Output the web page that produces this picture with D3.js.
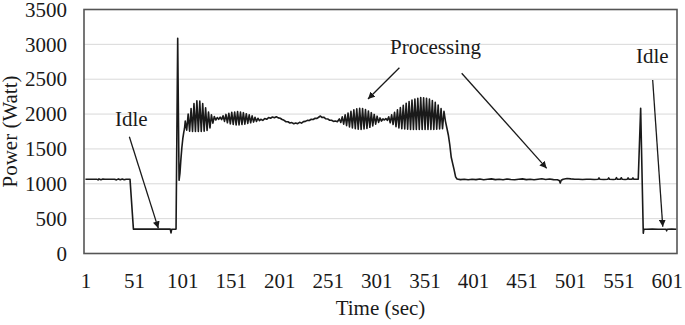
<!DOCTYPE html>
<html>
<head>
<meta charset="utf-8">
<script src="https://cdn.jsdelivr.net/npm/d3@7"></script>
<style>
  body { margin: 0; background: #fff; }
</style>
</head>
<body>
<div id="power-chart"></div>
<script>
// [sec, watt] readings, split by phase
const idleBefore = [[1,1064],[8,1064],[13,1064],[14,1056],[15,1070],[17,1058],[19,1068],[21,1064],[31,1064],[33,1056],[35,1070],[37,1058],
  [39,1068],[41,1058],[43,1066],[47,1064],
  [50.5,350],[56,350],[62,349],[68,350],[74,349],[80,350],[86,349],[88.5,350],[89.3,295],[90,348],[94.5,350]]
const startUp = [[96.2,3087],[97.6,1050],[98.5,1150],[99.5,1350],[100.5,1520],[101.5,1650],[102.5,1740],[103.2,1790]]
const band1 = [[104,1900],[105.5,1770],[107,2000],[108.5,1755],[110,2080],[111.5,1750],[113,2150],[114.5,1750],[116,2190],[117.5,1750],
  [119,2185],[120.5,1750],[122,2150],[123.5,1755],[125,2090],[126.5,1765],[128,2030],[129.5,1800],[131,1990],[132.5,1870],[134,1965],[135.5,1915],
  [137,1950],[138.5,1925],[140,1955],[141.5,1920]]
const band2 = [[143,1975],[144.5,1895],[146,1995],[147.5,1875],[149,2010],[150.5,1860],[152,2025],[153.5,1850],[155,2030],[156.5,1845],
  [158,2035],[159.5,1845],[161,2030],[162.5,1850],[164,2020],[165.5,1855],[167,2005],[168.5,1865],[170,1990],[171.5,1875],[173,1975],
  [174.5,1885],[176,1955],[177.5,1895],[179,1940],[180.5,1905]]
const calm = [[182,1925],[184,1910],[186,1935],[188,1925],[190,1950],[192,1940],[194,1958],[196,1948],[198,1962],[200,1945],[202,1940],
  [204,1922],[206,1910],[208,1890],[210,1890],[212,1872],[214,1878],[216,1862],[218,1872],[220,1862],[222,1882],[224,1870],[226,1892],
  [228,1895],[230,1910],[232,1908],[234,1925],[236,1922],[238,1940],[240,1938],[242,1958],[243.5,1972],[245,1952],[247,1955],[249,1932],
  [251,1930],[253,1912],[255,1912],[257,1895],[259,1900],[261,1890]]
const band3 = [[263,1930],[264.5,1880],[266,1960],[267.5,1855],[269,1990],[270.5,1835],[272,2015],[273.5,1815],[275,2040],[276.5,1800],
  [278,2060],[279.5,1790],[281,2075],[282.5,1782],[284,2082],[285.5,1780],[287,2078],[288.5,1785],[290,2065],[291.5,1795],[293,2045],
  [294.5,1810],[296,2020],[297.5,1830],[299,1995],[300.5,1855],[302,1970],[303.5,1880],[305,1945],[306.5,1900],
  [308,1930],[309.5,1915],[311,1935],[312.5,1910]]
const band4 = [[314,1960],[315.5,1875],[317,1990],[318.5,1850],[320,2025],[321.5,1820],[323,2060],[324.5,1800],[326,2095],[327.5,1790],
  [329,2125],[330.5,1785],[332,2155],[333.5,1782],[335,2180],[336.5,1780],[338,2200],[339.5,1780],[341,2215],[342.5,1780],[344,2228],
  [345.5,1780],[347,2236],[348.5,1780],[350,2235],[351.5,1780],[353,2228],[354.5,1780],[356,2215],[357.5,1780],[359,2195],[360.5,1780],
  [362,2170],[363.5,1782],[365,2130],[366.5,1785],[368,2080],[369.5,1790],[371,2040]]
const rampDown = [[372.5,1900],[374,1800],[375.5,1700],[377,1560],[378.5,1380],[380,1290],[381.5,1200],[383,1100],[384.5,1068]]
const steady = [[388,1060],[392,1066],[396,1058],[400,1064],[404,1060],[408,1068],[412,1058],[416,1064],[420,1070],[424,1060],[428,1066],
  [432,1058],[436,1068],[440,1062],[444,1058],[448,1066],[452,1070],[456,1060],[460,1064],[464,1058],[468,1066],[472,1072],[476,1062],
  [480,1068],[484,1060],[488,1058],[490,1048],[491,1010],[492,1050],[494,1066],[498,1076],[502,1070],[506,1066],[510,1064],[514,1062],
  [518,1064],[522,1064],[526,1062],[530,1064],[531,1085],[532,1064],[536,1062],[540,1064],[541,1085],[542,1064],[546,1062],[548,1064],
  [549,1088],[550,1064],[553,1064],[554,1086],[555,1064],[558,1062],[560,1064],[561,1085],[562,1064],[565,1064],[566,1084],[567,1064],[571.5,1064]]
const idleAfter = [[574,2083],[576.7,290],[577.3,348],[580,348],[586,349],[592,348],[598,348],[600.3,348],[600.8,325],[601.3,348],[606,349],[611,348]]

const power = [].concat(idleBefore, startUp, band1, band2, calm, band3, band4, rampDown, steady, idleAfter)

const yTicks = [0, 500, 1000, 1500, 2000, 2500, 3000, 3500]
const xTicks = [1, 51, 101, 151, 201, 251, 301, 351, 401, 451, 501, 551, 601]

// text label, text anchor point, arrow start, arrow end (all in sec / watt)
const notes = [
  { label: "Idle", at: [31.5, 1829], from: [46.3, 1675], to: [76.2, 361] },
  { label: "Processing", at: [315.3, 2857], from: [325, 2665], to: [292.6, 2216] },
  { label: null, at: null, from: [389.3, 2585], to: [477, 1222] },
  { label: "Idle", at: [569.2, 2728], from: [586.4, 2489], to: [596.8, 384] }
]

const serif = "'Liberation Serif', serif"
const ink = "#1a1a1a"

const margin = { top: 9.5, right: 8, bottom: 71.5, left: 84 }
const w = 685 - margin.left - margin.right
const h = 325 - margin.top - margin.bottom

const svg = d3.select("#power-chart")
  .append("svg")
  .attr("width", 685)
  .attr("height", 325)
  .append("g")
  .attr("transform", "translate(" + margin.left + "," + margin.top + ")")

svg.append("defs").append("marker")
  .attr("id", "head")
  .attr("viewBox", "0 0 10 10")
  .attr("refX", 10).attr("refY", 5)
  .attr("markerWidth", 7).attr("markerHeight", 7)
  .attr("markerUnits", "userSpaceOnUse")
  .attr("orient", "auto")
  .append("path")
  .attr("d", "M0,0L10,5L0,10Z")
  .attr("fill", ink)

const x = d3.scaleLinear().domain([-0.5, 611.5]).range([0, w])
const y = d3.scaleLinear().domain([0, 3500]).range([h, 0])

// gridlines
svg.selectAll(".grid")
  .data(yTicks.slice(1, -1))
  .enter()
  .append("line")
  .attr("class", "grid")
  .attr("x1", 0).attr("x2", w)
  .attr("y1", d => y(d)).attr("y2", d => y(d))
  .attr("stroke", "#d9d9d9")
  .attr("stroke-width", 1)

// axes, labels only
const xAxis = d3.axisBottom(x).tickValues(xTicks).tickSize(0).tickPadding(19.5).tickFormat(d3.format("d"))
const yAxis = d3.axisLeft(y).tickValues(yTicks).tickSize(0).tickPadding(17).tickFormat(d3.format("d"))

svg.append("g")
  .attr("transform", "translate(0," + h + ")")
  .call(xAxis)
  .call(g => g.select(".domain").remove())
  .selectAll("text")
  .style("font-family", serif)
  .style("font-size", "21px")
  .attr("fill", ink)

svg.append("g")
  .call(yAxis)
  .call(g => g.select(".domain").remove())
  .selectAll("text")
  .style("font-family", serif)
  .style("font-size", "21px")
  .attr("fill", ink)

// the power trace
const valueLine = d3.line()
  .x(d => x(d[0]))
  .y(d => y(d[1]))

svg.append("path")
  .datum(power)
  .attr("fill", "none")
  .attr("stroke", ink)
  .attr("stroke-width", 1.6)
  .attr("stroke-linejoin", "round")
  .attr("d", valueLine)

// plot frame
svg.append("rect")
  .attr("width", w).attr("height", h)
  .attr("fill", "none")
  .attr("stroke", "#555")
  .attr("stroke-width", 1.6)

// annotations
svg.selectAll(".arrow")
  .data(notes)
  .enter()
  .append("line")
  .attr("class", "arrow")
  .attr("x1", d => x(d.from[0])).attr("y1", d => y(d.from[1]))
  .attr("x2", d => x(d.to[0])).attr("y2", d => y(d.to[1]))
  .attr("stroke", ink)
  .attr("stroke-width", 1.3)
  .attr("marker-end", "url(#head)")

svg.selectAll(".note")
  .data(notes.filter(d => d.label))
  .enter()
  .append("text")
  .attr("class", "note")
  .attr("x", d => x(d.at[0]))
  .attr("y", d => y(d.at[1]))
  .style("font-family", serif)
  .style("font-size", "21px")
  .attr("fill", ink)
  .text(d => d.label)

// axis titles
svg.append("text")
  .attr("x", w / 2)
  .attr("y", h + 61.5)
  .attr("text-anchor", "middle")
  .style("font-family", serif)
  .style("font-size", "21px")
  .attr("fill", ink)
  .text("Time (sec)")

svg.append("text")
  .attr("transform", "rotate(-90)")
  .attr("x", -h / 2)
  .attr("y", 17 - margin.left)
  .attr("text-anchor", "middle")
  .style("font-family", serif)
  .style("font-size", "21px")
  .attr("fill", ink)
  .text("Power (Watt)")
</script>
</body>
</html>
